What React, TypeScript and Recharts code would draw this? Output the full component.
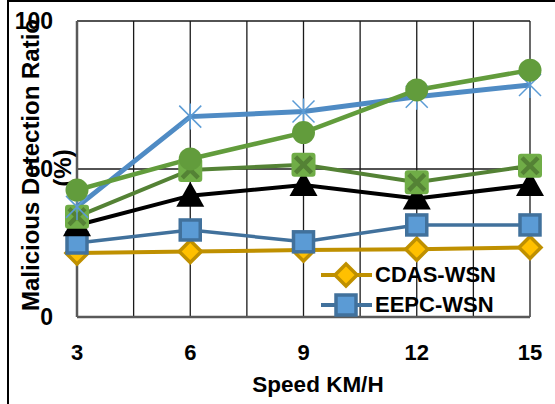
import React from "react";
import { LineChart, Line, XAxis, YAxis, CartesianGrid, Label } from "recharts";

const speeds = [3, 6, 9, 12, 15];
const gridTicks = [3, 4.5, 6, 7.5, 9, 10.5, 12, 13.5, 15];
const yTicks = [0, 50, 100];
const cdasWsn = [21.6, 22.1, 22.6, 22.9, 23.5];
const eepcWsn = [25.0, 29.4, 25.4, 31.1, 31.1];
const triangleSeries = [31.0, 41.0, 44.6, 40.0, 44.6];
const crossSeries = [33.9, 49.7, 51.4, 45.5, 51.1];
const starSeries = [37.2, 67.7, 69.4, 74.4, 78.4];
const circleSeries = [42.9, 53.4, 62.3, 76.7, 83.4];
const legendNames = ["CDAS-WSN", "EEPC-WSN"];

const data = speeds.map((s, i) => ({
  speed: s,
  cdas: cdasWsn[i],
  eepc: eepcWsn[i],
  tri: triangleSeries[i],
  cross: crossSeries[i],
  star: starSeries[i],
  circle: circleSeries[i],
}));

const FONT = "'Liberation Sans', Arial, sans-serif";

const Diamond = ({ cx, cy }: any) => (
  <polygon
    points={`${cx},${cy - 11} ${cx + 11},${cy} ${cx},${cy + 11} ${cx - 11},${cy}`}
    fill="#ffc000"
    stroke="#bf9000"
    strokeWidth={3.5}
  />
);
const Square = ({ cx, cy }: any) => (
  <rect x={cx - 10} y={cy - 10} width={20} height={20} fill="#5b9bd5" stroke="#41719c" strokeWidth={3.5} />
);
const Triangle = ({ cx, cy }: any) => (
  <polygon points={`${cx},${cy - 14} ${cx + 14},${cy + 11} ${cx - 14},${cy + 11}`} fill="#000" />
);
const CrossSquare = ({ cx, cy }: any) => (
  <g>
    <rect x={cx - 12} y={cy - 12} width={24} height={24} rx={3} fill="#70ad47" />
    <path d={`M${cx - 8},${cy - 8}L${cx + 8},${cy + 8}M${cx + 8},${cy - 8}L${cx - 8},${cy + 8}`} stroke="#548235" strokeWidth={4.5} />
  </g>
);
const Star = ({ cx, cy }: any) => (
  <path
    d={`M${cx - 11},${cy - 11}L${cx + 11},${cy + 11}M${cx + 11},${cy - 11}L${cx - 11},${cy + 11}M${cx},${cy - 13}L${cx},${cy + 13}`}
    stroke="#5b9bd5"
    strokeWidth={1.5}
  />
);
const Circle = ({ cx, cy }: any) => <circle cx={cx} cy={cy} r={11.5} fill="#629c3c" />;

const markerFor: Record<string, any> = { "CDAS-WSN": Diamond, "EEPC-WSN": Square };
const lineColor: Record<string, string> = { "CDAS-WSN": "#bf9000", "EEPC-WSN": "#41719c" };

const XTick = ({ x, payload }: any) =>
  Number.isInteger(payload.value) ? (
    <text x={x} y={360} textAnchor="middle" fontFamily={FONT} fontWeight="bold" fontSize={22} fill="#000">
      {payload.value}
    </text>
  ) : (
    <g />
  );

const YTick = ({ y, payload }: any) => (
  <text x={53} y={y + 8} textAnchor="end" fontFamily={FONT} fontWeight="bold" fontSize={23} fill="#000">
    {payload.value}
  </text>
);

const YLabel = () => (
  <g fontFamily={FONT} fontWeight="bold" fontSize={24} fill="#000">
    <text x={39} y={165} textAnchor="middle" transform="rotate(-90 39 165)">
      Malicious Detection Ratio
    </text>
    <text x={71} y={168} textAnchor="middle" transform="rotate(-90 71 168)">
      (%)
    </text>
  </g>
);

const XLabel = () => (
  <text x={318} y={392} textAnchor="middle" fontFamily={FONT} fontWeight="bold" fontSize={22.5} fill="#000">
    Speed KM/H
  </text>
);

function LegendBox() {
  return (
    <div style={{ position: "absolute", left: 317, top: 260 }}>
      {legendNames.map((n) => {
        const M = markerFor[n];
        return (
          <div key={n} style={{ display: "flex", alignItems: "center", height: 30 }}>
            <svg width={58} height={30}>
              <line x1={4} y1={15} x2={55} y2={15} stroke={lineColor[n]} strokeWidth={4} />
              <M cx={29} cy={15} />
            </svg>
            <span style={{ fontFamily: FONT, fontWeight: "bold", fontSize: 22, color: "#000" }}>{n}</span>
          </div>
        );
      })}
    </div>
  );
}

export default function App() {
  return (
    <div style={{ position: "absolute", left: 0, top: 0, width: 555, height: 404, overflow: "hidden", background: "#fff" }}>
      <div
        style={{
          position: "absolute",
          left: 7,
          top: 0,
          width: 600,
          height: 500,
          borderLeft: "2px solid #000",
          borderTop: "2px solid #000",
        }}
      />
      <LineChart width={555} height={404} data={data} margin={{ top: 21, right: 25, bottom: 0, left: 0 }}>
        <CartesianGrid stroke="#1a1a1a" strokeWidth={1.3} />
        <XAxis
          dataKey="speed"
          type="number"
          domain={[3, 15]}
          ticks={gridTicks}
          interval={0}
          tick={<XTick />}
          tickLine={false}
          height={87}
          axisLine={{ stroke: "#595959", strokeWidth: 2.5 }}
        >
          <Label content={<XLabel />} />
        </XAxis>
        <YAxis
          domain={[0, 100]}
          ticks={yTicks}
          width={77}
          tick={<YTick />}
          tickLine={false}
          axisLine={{ stroke: "#595959", strokeWidth: 2.5 }}
        >
          <Label content={<YLabel />} />
        </YAxis>
        <Line dataKey="cdas" name="CDAS-WSN" stroke="#bf9000" strokeWidth={4} dot={<Diamond />} isAnimationActive={false} />
        <Line dataKey="eepc" name="EEPC-WSN" stroke="#41719c" strokeWidth={3.5} dot={<Square />} isAnimationActive={false} />
        <Line dataKey="tri" name="Series 3" stroke="#000" strokeWidth={4} dot={<Triangle />} isAnimationActive={false} />
        <Line dataKey="cross" name="Series 4" stroke="#548235" strokeWidth={4} dot={<CrossSquare />} isAnimationActive={false} />
        <Line dataKey="star" name="Series 5" stroke="#4f8bc4" strokeWidth={5} dot={<Star />} isAnimationActive={false} />
        <Line dataKey="circle" name="Series 6" stroke="#629c3c" strokeWidth={4.5} dot={<Circle />} isAnimationActive={false} />
      </LineChart>
      <LegendBox />
    </div>
  );
}
